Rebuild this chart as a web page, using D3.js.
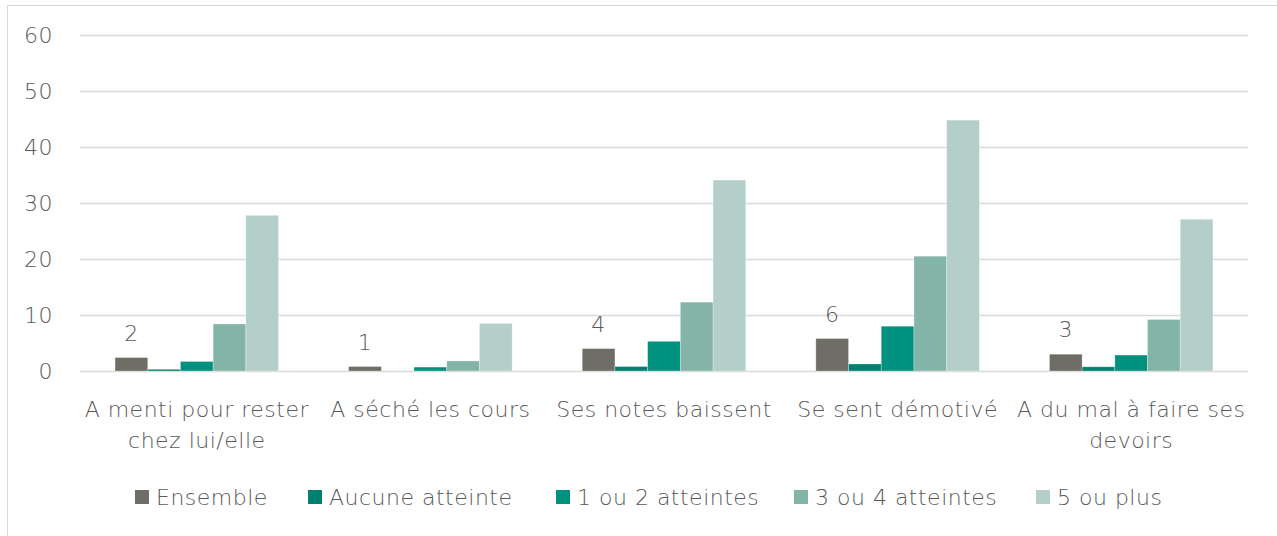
<!DOCTYPE html>
<html>
<head>
<meta charset="utf-8">
<script src="https://cdn.jsdelivr.net/npm/d3@7"></script>
<style>
  body { margin: 0; background: #fff; }
  svg text { font-family: "DejaVu Sans", sans-serif; font-weight: 200; fill: #595959; letter-spacing: 0.5px; }
</style>
</head>
<body>
<div id="chart"></div>
<script>
var categories = [
  ["A menti pour rester", "chez lui/elle"],
  ["A séché les cours"],
  ["Ses notes baissent"],
  ["Se sent démotivé"],
  ["A du mal à faire ses", "devoirs"]
];
var seriesNames = ["Ensemble", "Aucune atteinte", "1 ou 2 atteintes", "3 ou 4 atteintes", "5 ou plus"];
var ensemble      = [2.4, 0.8, 4.0, 5.8, 3.0];
var aucune        = [0.3, 0.0, 0.8, 1.25, 0.75];
var unOuDeux      = [1.7, 0.7, 5.3, 8.0, 2.85];
var troisOuQuatre = [8.4, 1.8, 12.3, 20.5, 9.2];
var cinqOuPlus    = [27.8, 8.5, 34.1, 44.8, 27.1];
var ensembleLabels = ["2", "1", "4", "6", "3"];
var yTicks = [0, 10, 20, 30, 40, 50, 60];
var colors = ["#6f6e66", "#00806f", "#00927f", "#84b4a8", "#b4cfca"];

var W = 1277, H = 536;
var margin = {left: 80, right: 29, top: 35, bottom: 165};
var fs = 22;

var svg = d3.select("#chart").append("svg")
    .attr("width", W).attr("height", H);

svg.append("rect")
    .attr("x", 7.5).attr("y", 5.5)
    .attr("width", W + 10).attr("height", H + 10)
    .attr("fill", "none").attr("stroke", "#d9d9d9");

var series = [ensemble, aucune, unOuDeux, troisOuQuatre, cinqOuPlus];

var x0 = d3.scaleBand()
    .domain(d3.range(categories.length))
    .range([margin.left, W - margin.right])
    .paddingInner(0.3).paddingOuter(0.15);

var x1 = d3.scaleBand()
    .domain(d3.range(series.length))
    .range([0, x0.bandwidth()]);

var y = d3.scaleLinear().domain([0, 60]).range([371, 35]);

// grid
svg.append("g").selectAll("line").data(yTicks).enter().append("line")
    .attr("x1", margin.left).attr("x2", W - margin.right)
    .attr("y1", function(d){ return Math.round(y(d)) + 0.5; })
    .attr("y2", function(d){ return Math.round(y(d)) + 0.5; })
    .attr("stroke", "#d9d9d9").attr("stroke-width", 1.3);

svg.append("g").selectAll("text").data(yTicks).enter().append("text")
    .attr("x", 53).attr("y", function(d){ return y(d); })
    .attr("dy", "0.36em").attr("text-anchor", "end")
    .attr("font-size", fs)
    .text(function(d){ return d; });

// bars
var groups = svg.append("g").selectAll("g").data(categories).enter().append("g")
    .attr("transform", function(d, i){ return "translate(" + x0(i) + ",0)"; });

groups.selectAll("rect")
    .data(function(d, i){ return series.map(function(s, k){ return {k: k, v: s[i]}; }); })
    .enter().append("rect")
    .attr("x", function(d){ return x1(d.k); })
    .attr("width", x1.bandwidth())
    .attr("y", function(d){ return y(d.v); })
    .attr("height", function(d){ return y(0) - y(d.v); })
    .attr("fill", function(d){ return colors[d.k]; })
    .attr("stroke", "#fff").attr("stroke-opacity", 0.35).attr("stroke-width", 0.8);

groups.append("text")
    .attr("x", x1(0) + x1.bandwidth() / 2)
    .attr("y", function(d, i){ return y(ensemble[i]) - 17; })
    .attr("text-anchor", "middle")
    .attr("font-size", fs)
    .text(function(d, i){ return ensembleLabels[i]; });

// category labels
groups.append("text")
    .attr("text-anchor", "middle")
    .attr("font-size", fs)
    .attr("x", x0.bandwidth() / 2)
    .selectAll("tspan").data(function(d){ return d; }).enter().append("tspan")
    .attr("x", x0.bandwidth() / 2)
    .attr("y", function(d, j){ return 417 + j * 31; })
    .text(function(d){ return d; });

// legend
var legendX = [135, 308, 556, 794, 1036];
var lg = svg.append("g").selectAll("g").data(seriesNames).enter().append("g")
    .attr("transform", function(d, i){ return "translate(" + legendX[i] + ",490)"; });
lg.append("rect").attr("width", 14).attr("height", 14)
    .attr("fill", function(d, i){ return colors[i]; });
lg.append("text").attr("x", 21).attr("y", 7).attr("dy", "0.36em")
    .attr("font-size", fs)
    .text(function(d){ return d; });
</script>
</body>
</html>
